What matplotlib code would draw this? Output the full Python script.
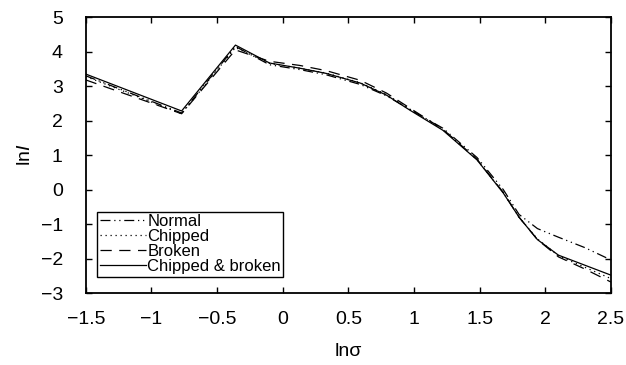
import numpy as np
import matplotlib
matplotlib.use("Agg")
import matplotlib.pyplot as plt

plt.rcParams['font.family'] = ['Liberation Sans', 'DejaVu Sans']
plt.rcParams['mathtext.fontset'] = 'custom'
plt.rcParams['mathtext.it'] = 'Liberation Sans:italic'
plt.rcParams['mathtext.rm'] = 'Liberation Sans'

# ln(sigma) sample points shared by all four curves
ln_sigma = [-1.5, -0.77, -0.36, -0.1, 0.13, 0.33, 0.59, 0.79, 0.97,
            1.22, 1.48, 1.68, 1.8, 1.94, 2.1, 2.3, 2.5]

normal = [3.30, 2.22, 4.15, 3.62, 3.48, 3.33, 3.05, 2.72, 2.32,
          1.78, 0.93, 0.00, -0.72, -1.13, -1.38, -1.68, -2.04]
chipped = [3.28, 2.20, 4.12, 3.66, 3.52, 3.38, 3.10, 2.76, 2.33,
           1.74, 0.87, -0.09, -0.80, -1.43, -1.92, -2.25, -2.58]
broken = [3.18, 2.20, 4.05, 3.72, 3.60, 3.45, 3.17, 2.80, 2.36,
          1.75, 0.88, -0.08, -0.80, -1.45, -1.95, -2.30, -2.68]
chipped_broken = [3.35, 2.28, 4.19, 3.67, 3.52, 3.37, 3.09, 2.74, 2.30,
                  1.72, 0.86, -0.10, -0.80, -1.45, -1.90, -2.19, -2.48]

series = [
    ("Normal", normal, (0, (8, 3, 1, 3, 1, 3))),
    ("Chipped", chipped, (0, (1, 3))),
    ("Broken", broken, (0, (9, 6))),
    ("Chipped & broken", chipped_broken, "-"),
]

fig = plt.figure(figsize=(6.26, 3.65), dpi=100)
ax = fig.add_axes([0.137, 0.197, 0.839, 0.756])

for label, vals, ls in series:
    ax.plot(ln_sigma, vals, color="black", linestyle=ls, linewidth=0.9, label=label)

ax.set_xlim(-1.5, 2.5)
ax.set_ylim(-3, 5)
ax.set_xticks(np.arange(-1.5, 2.51, 0.5))
ax.set_xticklabels(["\u22121.5", "\u22121", "\u22120.5", "0", "0.5", "1", "1.5", "2", "2.5"])
ax.set_yticks(np.arange(-3, 6, 1))
ax.set_yticklabels(["\u22123", "\u22122", "\u22121", "0", "1", "2", "3", "4", "5"])
ax.tick_params(direction="in", top=True, right=True, length=4, width=1,
               labelsize=14)
ax.tick_params(axis="x", pad=13)
ax.tick_params(axis="y", pad=16.5)
for sp in ax.spines.values():
    sp.set_linewidth(1.3)

ax.set_xlabel("ln\u03c3", fontsize=14, labelpad=10.5)
ax.set_ylabel(r"ln$\mathit{I}$", fontsize=14, labelpad=5)

leg = ax.legend(loc="lower left", bbox_to_anchor=(0.022, 0.06), fontsize=12,
                frameon=True, fancybox=False, edgecolor="black", framealpha=1,
                handlelength=2.8, handletextpad=0.05, labelspacing=0.0,
                borderpad=0.15, borderaxespad=0)
leg.get_frame().set_linewidth(1)

fig.savefig("out.png", dpi=100)
